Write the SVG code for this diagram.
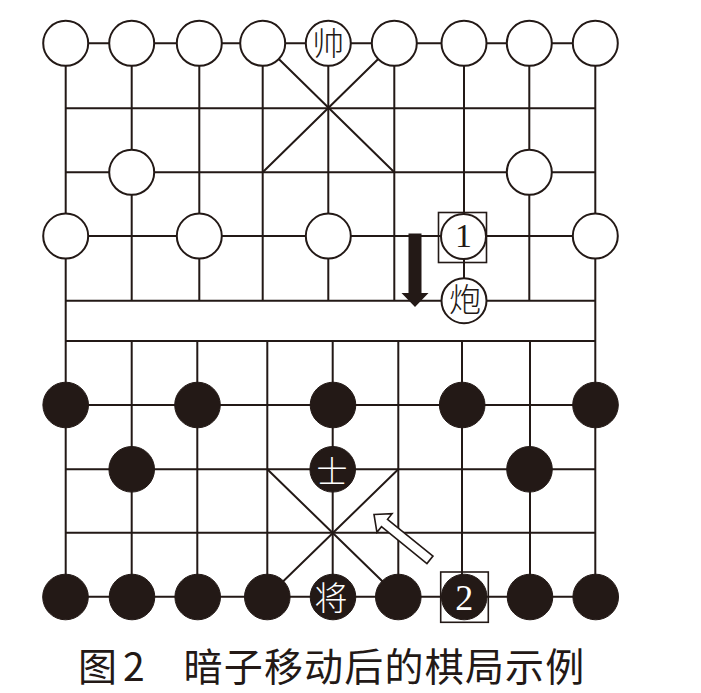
<svg xmlns="http://www.w3.org/2000/svg" width="701" height="693" viewBox="0 0 701 693">
<style>
  .ln{stroke:#231916;stroke-width:2;fill:none}
  .wp{fill:#ffffff;stroke:#231916;stroke-width:2}
  .bp{fill:#231916;stroke:#231916;stroke-width:1}
  .box{fill:none;stroke:#231916;stroke-width:1.6}
  .cj{font-family:"Noto Sans CJK SC","Noto Sans CJK JP",sans-serif;font-weight:300;text-anchor:middle}
  .dg{font-family:"Liberation Serif","DejaVu Serif",serif;text-anchor:middle}
  .cap{font-family:"Noto Sans CJK SC","Noto Sans CJK JP",sans-serif;font-size:39px;fill:#231916}
</style>
<rect x="0" y="0" width="701" height="693" fill="#ffffff"/>
<g id="connectors">
  <path class="ln" d="M65.7 43.3H595.3M65.7 108.3H595.3M65.7 172.3H595.3M65.7 236H595.3M65.7 300.7H595.3"/>
  <path class="ln" d="M65.7 341H595.3M65.7 405H595.3M65.7 469.3H595.3M65.7 532.7H595.3M65.7 596.7H595.3"/>
  <path class="ln" d="M65.7 43.3V596.7M595.3 43.3V596.7"/>
  <path class="ln" d="M131.7 43.3V300.7M199.3 43.3V300.7M262.7 43.3V300.7M328.3 43.3V300.7M394.3 43.3V300.7M464 43.3V300.7M529.3 43.3V300.7"/>
  <path class="ln" d="M131.7 341V596.7M197.3 341V596.7M267.3 341V596.7M332.7 341V596.7M398.3 341V596.7M462 341V596.7M530 341V596.7"/>
  <path class="ln" d="M262.7 43.3L394.3 172.3M394.3 43.3L262.7 172.3"/>
  <path class="ln" d="M267.3 469.3L398.3 596.7M398.3 469.3L267.3 596.7"/>
</g>
<g id="red-pieces">
  <g id="r-0-0"><circle class="wp" cx="65.7" cy="43.3" r="22.5"/></g>
  <g id="r-0-1"><circle class="wp" cx="131.7" cy="43.3" r="22.5"/></g>
  <g id="r-0-2"><circle class="wp" cx="199.3" cy="43.3" r="22.5"/></g>
  <g id="r-0-3"><circle class="wp" cx="262.7" cy="43.3" r="22.5"/></g>
  <g id="shuai"><circle class="wp" cx="328.3" cy="43.3" r="22.5"/><text class="cj" x="328.3" y="55.3" font-size="32" fill="#231916">帅</text></g>
  <g id="r-0-5"><circle class="wp" cx="394.3" cy="43.3" r="22.5"/></g>
  <g id="r-0-6"><circle class="wp" cx="464" cy="43.3" r="22.5"/></g>
  <g id="r-0-7"><circle class="wp" cx="529.3" cy="43.3" r="22.5"/></g>
  <g id="r-0-8"><circle class="wp" cx="595.3" cy="43.3" r="22.5"/></g>
  <g id="r-2-1"><circle class="wp" cx="131.7" cy="172.3" r="22.5"/></g>
  <g id="r-2-7"><circle class="wp" cx="529.3" cy="172.3" r="22.5"/></g>
  <g id="r-3-0"><circle class="wp" cx="65.7" cy="236" r="22.5"/></g>
  <g id="r-3-2"><circle class="wp" cx="199.3" cy="236" r="22.5"/></g>
  <g id="r-3-4"><circle class="wp" cx="328.3" cy="236" r="22.5"/></g>
  <g id="piece-1"><rect class="box" x="438.5" y="212.5" width="48" height="50"/><circle class="wp" cx="463.5" cy="236.5" r="22.5"/><text class="dg" x="463.5" y="247" font-size="34" fill="#231916">1</text></g>
  <g id="r-3-8"><circle class="wp" cx="595.3" cy="236" r="22.5"/></g>
  <g id="pao"><circle class="wp" cx="464" cy="300.7" r="22.5"/><text class="cj" x="465" y="310.5" font-size="32" fill="#231916">炮</text></g>
</g>
<g id="black-pieces">
  <g id="b-5-0"><circle class="bp" cx="65.7" cy="405" r="22.8"/></g>
  <g id="b-5-2"><circle class="bp" cx="197.5" cy="405" r="22.8"/></g>
  <g id="b-5-4"><circle class="bp" cx="333" cy="405" r="22.8"/></g>
  <g id="b-5-6"><circle class="bp" cx="462.2" cy="405" r="22.8"/></g>
  <g id="b-5-8"><circle class="bp" cx="595.5" cy="405" r="22.8"/></g>
  <g id="b-6-1"><circle class="bp" cx="131.7" cy="469.3" r="22.8"/></g>
  <g id="shi"><circle class="bp" cx="332.7" cy="469.3" r="22.8"/><text class="cj" x="332" y="483" font-size="31" fill="#ffffff">士</text></g>
  <g id="b-6-7"><circle class="bp" cx="529.5" cy="469.3" r="22.8"/></g>
  <g id="b-8-0"><circle class="bp" cx="65.5" cy="597" r="22.8"/></g>
  <g id="b-8-1"><circle class="bp" cx="132" cy="597" r="22.8"/></g>
  <g id="b-8-2"><circle class="bp" cx="197.7" cy="597" r="22.8"/></g>
  <g id="b-8-3"><circle class="bp" cx="267.3" cy="597" r="22.8"/></g>
  <g id="jiang"><circle class="bp" cx="333" cy="597" r="22.8"/><text class="cj" x="331" y="609.5" font-size="33" fill="#ffffff">将</text></g>
  <g id="b-8-5"><circle class="bp" cx="398.3" cy="597" r="22.8"/></g>
  <g id="piece-2"><rect class="box" x="440.7" y="572" width="47.6" height="50.3"/><circle class="bp" cx="464.2" cy="597" r="22.8"/><text class="dg" x="464.2" y="610" font-size="36" fill="#ffffff">2</text></g>
  <g id="b-8-7"><circle class="bp" cx="530" cy="597" r="22.8"/></g>
  <g id="b-8-8"><circle class="bp" cx="595.7" cy="597" r="22.8"/></g>
</g>
<g id="arrows">
  <polygon id="arrow-down" points="408.5,233.5 421.5,233.5 421.5,293 428.5,293 415,307 401.5,293 408.5,293" fill="#231916"/>
  <polygon id="arrow-up-left" transform="translate(374,514.5) rotate(39)" points="0,0 13.5,-12 13.5,-4.8 72,-4.8 72,4.8 13.5,4.8 13.5,12" fill="#ffffff" stroke="#231916" stroke-width="1.6" stroke-linejoin="miter"/>
</g>
<g id="caption">
  <text class="cap" y="681"><tspan x="78">图</tspan><tspan x="123">2</tspan><tspan x="183.5" letter-spacing="1.2">暗子移动后的棋局示例</tspan></text>
</g>
</svg>
